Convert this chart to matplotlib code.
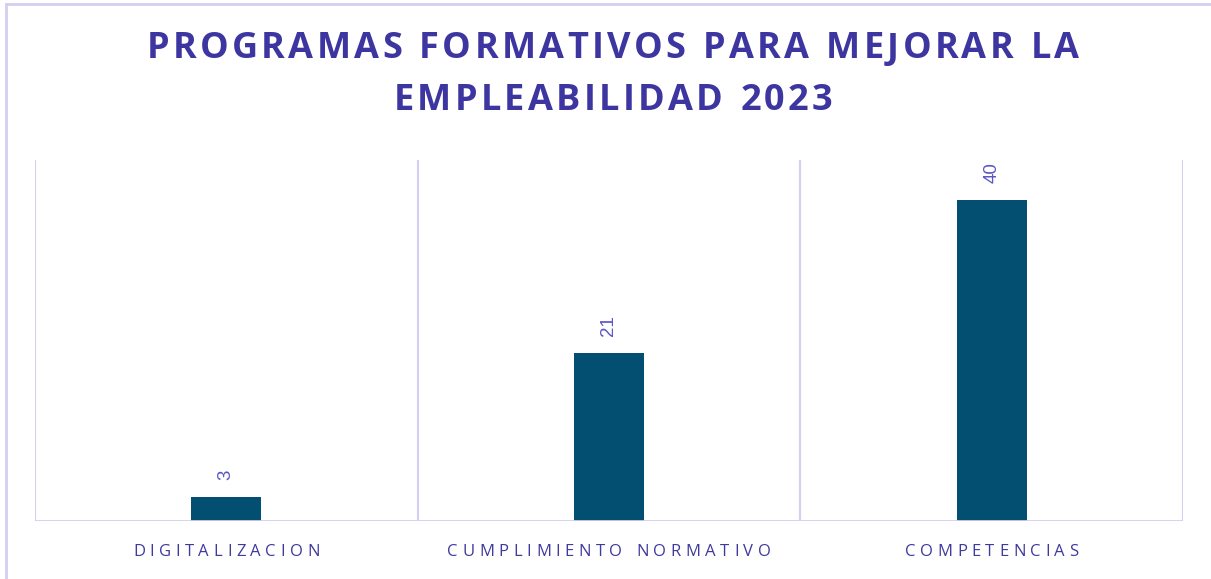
import numpy as np
import matplotlib
matplotlib.use("Agg")
import matplotlib.pyplot as plt

# data
categories = ["DIGITALIZACION", "CUMPLIMIENTO NORMATIVO", "COMPETENCIAS"]
values = [3, 21, 40]
title_lines = ["PROGRAMAS FORMATIVOS PARA MEJORAR LA", "EMPLEABILIDAD 2023"]

bar_color = "#024F71"
title_color = "#3D35A0"
label_color = "#3F3A9E"
value_color = "#5B55C8"
grid_color = "#D3CFF0"

W, H = 1211, 579
fig = plt.figure(figsize=(W / 100, H / 100), dpi=100)
renderer = fig.canvas.get_renderer()


def spaced_text(x_px, y_px, s, spacing, **kw):
    # draw text letter by letter so we can mimic the wide letter spacing
    widths = []
    for ch in s:
        t = fig.text(0, 0, ch if ch != " " else "n", **kw)
        w = t.get_window_extent(renderer).width
        if ch == " ":
            w *= 0.45
        widths.append(w)
        t.remove()
    total = sum(widths) + spacing * (len(s) - 1)
    x = x_px - total / 2
    for ch, w in zip(s, widths):
        if ch != " ":
            fig.text(x / W, 1 - y_px / H, ch, ha="left", va="center_baseline", **kw)
        x += w + spacing


ax = fig.add_axes([35 / W, (H - 521) / H, 1148 / W, 361 / H])
x = np.arange(len(categories))
ax.bar(x, values, width=0.183, color=bar_color, zorder=3)
ax.set_xlim(-0.5, len(categories) - 0.5)
ax.set_ylim(0, 45)

for xv in np.arange(-0.5, len(categories), 1.0):
    ax.axvline(xv, color=grid_color, lw=1.5, zorder=1)
for sp in ax.spines.values():
    sp.set_visible(False)
ax.axhline(0, color=grid_color, lw=2, zorder=4)
ax.set_xticks([])
ax.set_yticks([])

for xi, v in zip(x, values):
    ax.annotate(str(v), (xi, v), xytext=(0, 12), textcoords="offset points",
                rotation=90, ha="center", va="bottom", color=value_color,
                fontsize=13.5, family="Liberation Sans")

# outer frame
fig.add_artist(plt.Line2D([5.5 / W, 5.5 / W], [0, 1 - 3.5 / H], color=grid_color, lw=2,
                          transform=fig.transFigure))
fig.add_artist(plt.Line2D([5.5 / W, 1], [1 - 3.5 / H, 1 - 3.5 / H], color=grid_color, lw=2,
                          transform=fig.transFigure))

# title
tkw = dict(fontsize=26, fontweight="bold", color=title_color, family="Open Sans")
spaced_text(613, 45, title_lines[0], 3.3, **tkw)
spaced_text(613, 97, title_lines[1], 3.3, **tkw)

# category labels
lkw = dict(fontsize=12, color=label_color, family="Open Sans")
for i, c in enumerate(categories):
    px = 35 + (i + 0.5) * 1148 / 3
    spaced_text(px, 550, c, 4.6, **lkw)

fig.savefig("out.png", dpi=100)
